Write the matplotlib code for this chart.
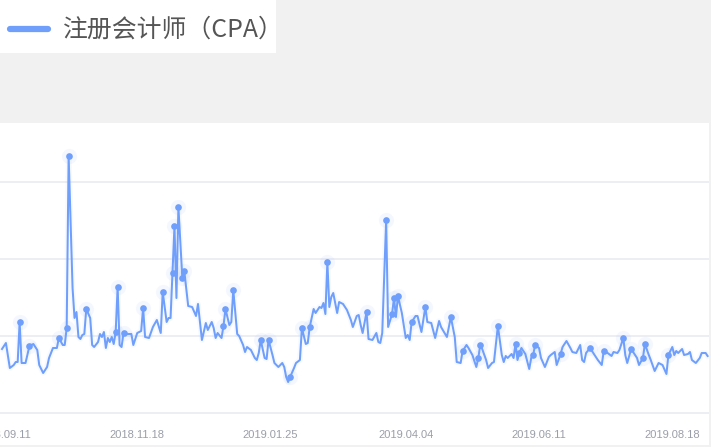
import numpy as np
import matplotlib
matplotlib.use('Agg')
import matplotlib.pyplot as plt
import matplotlib.dates as mdates
from matplotlib.patches import Rectangle
from matplotlib.lines import Line2D

# ---------------- data ----------------
series_name = '注册会计师（CPA）'
start_date = '2018-09-10'

day_offsets = [
    0, 2, 4, 6, 7, 8, 9, 10, 12, 14, 16, 18, 19, 21, 23, 24, 26, 28, 29, 31,
    32, 33, 34, 36, 37, 38, 39, 40, 41, 42, 43, 45,
    46, 47, 49, 50, 51, 52, 53, 54, 55, 56, 57, 58, 59, 60, 61, 62, 64, 66,
    67, 69, 71, 72, 73, 75, 77, 79, 81, 82, 84, 85, 86, 87, 88, 89, 90,
    92, 93, 95, 97, 99, 100, 102, 104, 105, 107, 108, 109, 110, 112, 113, 114,
    116, 117, 118, 120, 121, 123, 124, 125, 127, 129, 130, 131, 132, 134,
    135, 136, 138, 139, 141, 143, 144, 145, 146, 147, 149, 150, 152, 153, 155,
    156, 157, 159, 160, 162, 163, 164, 165, 166, 167, 168, 169, 171, 172, 174,
    176, 178, 179, 181, 182, 183, 184, 186, 187, 189, 191, 192, 193, 194, 196,
    197, 199, 200, 201, 202, 204, 206, 207, 208, 209, 211, 212, 214, 216, 217,
    219, 221, 223, 224, 227, 229, 231, 232, 234, 235, 237, 238, 240, 242, 243,
    244, 245, 247, 248, 250, 251, 253, 255, 256, 257, 258, 260, 261, 262, 263,
    264, 265, 267, 269, 270, 271, 272, 274, 275, 277, 279, 280, 282, 283, 285,
    286, 288, 290, 291, 293, 295, 296, 297, 298, 300, 302, 304, 306, 307, 309,
    311, 312, 314, 315, 317, 318, 319, 321, 322, 324, 325, 327, 328, 330, 331,
    333, 335, 337, 339, 340, 342, 343, 344, 345, 347, 348, 350, 351, 352, 354,
    356, 357, 359, 360,
]

index_values = [
    832, 910, 585, 624, 663, 663, 1183, 650, 650, 871, 897, 819, 624, 520, 598, 715, 845, 845, 975, 884,
    884, 1105, 3341, 1625, 1235, 1313, 988, 962, 1014, 1027, 1352, 1235,
    884, 858, 923, 1027, 988, 1053, 845, 975, 923, 988, 897, 1053, 1638, 884, 858, 1040, 1027, 1027,
    884, 1040, 1066, 1365, 988, 975, 1118, 1209, 1040, 1573, 1183, 1235, 1235, 1820, 2431, 1495, 2678,
    1755, 1846, 1391, 1378, 1261, 1417, 949, 1170, 1079, 1183, 1105, 975, 1040, 975, 1131, 1352,
    1144, 1183, 1599, 1027, 1001, 884, 793, 858, 819, 715, 689, 780, 949, 715,
    702, 949, 754, 650, 598, 650, 598, 468, 403, 468, 585, 650, 689, 1105, 897,
    910, 1118, 1352, 1300, 1378, 1365, 1430, 1287, 1963, 1378, 1508, 1560, 1300, 1443, 1417,
    1339, 1209, 1118, 1261, 1274, 1144, 1040, 1313, 962, 949, 1040, 923, 910, 1040, 2509,
    1118, 1287, 1495, 1248, 1521, 1300, 975, 1014, 949, 1183, 1261, 1261, 1053, 1378, 1183,
    1170, 975, 1196, 1118, 988, 1248, 988, 663, 650, 806, 884, 845, 754, 598, 715,
    884, 832, 689, 585, 650, 663, 1131, 754, 663, 741, 715, 767, 715, 897, 689,
    780, 845, 767, 572, 715, 754, 884, 845, 715, 598, 728, 754, 793, 624, 767,
    858, 936, 845, 793, 780, 884, 689, 663, 780, 845, 767, 689, 624, 806, 780,
    741, 793, 780, 819, 975, 754, 650, 832, 793, 715, 624, 715, 897, 754, 689,
    546, 650, 624, 507, 754, 858, 754, 806, 780, 832, 754, 767, 793, 689, 650,
    715, 780, 780, 741,
]

highlight_days = [9, 14, 29, 33, 34, 43, 58, 59, 62, 72, 82, 87, 88, 90, 92, 93,
                  113, 114, 118, 132, 136, 147, 153, 157, 166, 186, 196, 199, 200,
                  202, 209, 216, 229, 235, 243, 244, 253, 262, 264, 271, 272, 285,
                  300, 307, 317, 321, 327, 328, 340]

tick_dates = ['2018-09-11', '2018-11-18', '2019-01-25', '2019-04-04', '2019-06-11', '2019-08-18']
tick_labels = ['2018.09.11', '2018.11.18', '2019.01.25', '2019.04.04', '2019.06.11', '2019.08.18']
grid_values = [0, 1000, 2000, 3000]

# ---------------- style ----------------
BLUE = '#6f9ffb'
W, H = 711, 447

fig = plt.figure(figsize=(W / 100, H / 100), dpi=100, facecolor='#f1f1f1')

# white chart panel
fig.add_artist(Rectangle((0, 2 / H), 709 / W, (H - 123 - 2) / H, transform=fig.transFigure,
                         facecolor='white', edgecolor='none', zorder=0))
# legend box
fig.add_artist(Rectangle((0, 1 - 53 / H), 276 / W, 53 / H, transform=fig.transFigure,
                         facecolor='white', edgecolor='none', zorder=0))
fig.add_artist(Line2D([10 / W, 48 / W], [1 - 29 / H, 1 - 29 / H], transform=fig.transFigure,
                      color=BLUE, lw=4.5, solid_capstyle='round'))
fig.text(63 / W, 1 - 29.5 / H, series_name, ha='left', va='center', fontsize=17.9,
         color='#555555', family=['Noto Sans CJK SC', 'DejaVu Sans'])

# axes: bottom of plot at pixel 413 (value 0), top at pixel 123
ax = fig.add_axes([0, 32 / H, 709 / W, 292 / H])
ax.set_facecolor('none')

base = mdates.date2num(np.datetime64(start_date))
x = base + np.array(day_offsets, dtype=float)
v = np.array(index_values, dtype=float)
mask = np.isin(np.array(day_offsets), highlight_days)

ax.plot(x, v, color=BLUE, lw=4, alpha=0.06, solid_joinstyle='round', zorder=2)
ax.plot(x, v, color=BLUE, lw=1.45, solid_joinstyle='round', zorder=3)
ax.plot(x[mask], v[mask], 'o', ms=11, color=BLUE, alpha=0.07, mec='none', zorder=3)
ax.plot(x[mask], v[mask], 'o', ms=4.8, color=BLUE, mec='none', zorder=4)

ax.set_xlim(base - 2 / 1.96, base + 707 / 1.96)
ax.set_ylim(-26, 3770)

tick_x = [mdates.date2num(np.datetime64(d)) for d in tick_dates]
ax.set_xticks(tick_x)
ax.set_xticklabels(tick_labels, fontsize=8, color='#9a9ea8', family='Liberation Sans')
ax.tick_params(axis='x', length=0, pad=10.5)
ax.set_yticks(grid_values)
ax.tick_params(axis='y', length=0, labelleft=False)
ax.yaxis.grid(True, color='#e8eaf1', lw=1.1)
ax.set_axisbelow(True)
for s in ax.spines.values():
    s.set_visible(False)

fig.savefig('out.png', dpi=100, facecolor=fig.get_facecolor())
